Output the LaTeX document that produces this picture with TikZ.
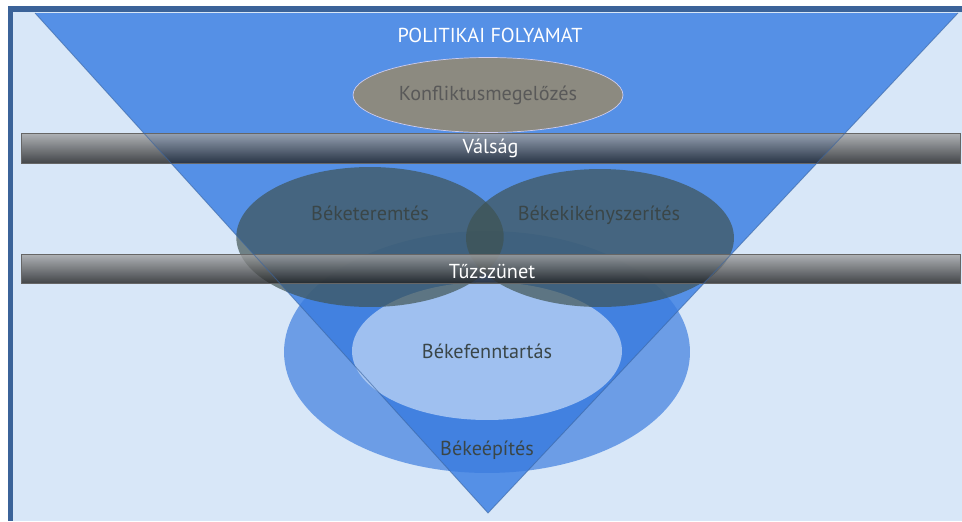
\documentclass[tikz,border=0pt]{standalone}
\usepackage{fontspec}
\setmainfont{PT Sans}
\usetikzlibrary{shapes.geometric}

\definecolor{pagebg}{HTML}{D8E7F8}
\definecolor{framebl}{HTML}{3B6399}
\definecolor{funnelbl}{HTML}{5590E6}
\definecolor{ringbl}{HTML}{3A7BDE}
\definecolor{corebl}{HTML}{B4CFF4}
\definecolor{slate}{HTML}{3E5250}
\definecolor{stone}{HTML}{8C8A80}
\definecolor{inkgray}{HTML}{3A4648}

\tikzset{
  lbl/.style={font=\fontsize{11.5}{13}\selectfont, inner sep=0pt},
  bar/.style={lbl, rectangle, draw=black!60, line width=0.3pt,
    top color=black!35, bottom color=black!88, fill opacity=0.8,
    text opacity=1, text=white, minimum width=18.78cm, minimum height=0.6cm},
  peace/.style={ellipse, fill=slate, fill opacity=0.68, inner sep=0pt,
    minimum width=5.35cm, minimum height=2.8cm},
}

\begin{document}
\begin{tikzpicture}[x=0.02cm, y=-0.02cm]
\useasboundingbox (0,0) rectangle (962,521);
% page and frame
\fill[white] (0,0) rectangle (962,521);
\fill[pagebg] (13,12) rectangle (962,521);
\fill[framebl] (8,6) rectangle (962,12);
\fill[framebl] (8,6) rectangle (13,521);
% funnel
\coordinate (tl) at (35,13);
\coordinate (tr) at (958,13);
\coordinate (apex) at (488,513);
\fill[funnelbl] (tl) -- (tr) -- (apex) -- cycle;
% lower rings
\node[ellipse, fill=ringbl, fill opacity=0.68, inner sep=0pt,
  minimum width=8.12cm, minimum height=4.84cm] (epit) at (487,352) {};
\node[ellipse, fill=corebl, fill opacity=0.82, inner sep=0pt,
  minimum width=5.4cm, minimum height=2.76cm] (fenntart) at (487,351) {};
% overlapping ellipses
\node[peace] (teremt) at (370,237) {};
\node[peace, minimum width=5.36cm, minimum height=2.76cm] (kikeny) at (600,238) {};
% bars
\node[bar] (valsag) at (490.5,148) {Válság};
\node[bar, minimum height=0.58cm] (tuzszunet) at (490.5,268.5) {};
% top ellipse
\node[lbl, ellipse, fill=stone, draw=black!30!blue!20!white, line width=0.4pt,
  minimum width=5.4cm, minimum height=1.5cm, text=black!65] (konflikt) at (488,95)
  {Konfliktusmegelőzés};
% funnel edges
\draw[funnelbl!70!black, line width=0.5pt, opacity=0.6] (tl) -- (apex) -- (tr);
% labels
\node[lbl, text=white] (folyamat) at (490,35) {POLITIKAI FOLYAMAT};
\node[lbl, text=white] (tuz-t) at (492,272) {Tűzszünet};
\node[lbl, text=inkgray] (teremt-t) at (370,213) {Béketeremtés};
\node[lbl, text=inkgray] (kikeny-t) at (599,215) {Békekikényszerítés};
\node[lbl, text=inkgray] (fenntart-t) at (487,351) {Békefenntartás};
\node[lbl, text=inkgray] (epit-t) at (487,450) {Békeépítés};
\end{tikzpicture}
\end{document}
